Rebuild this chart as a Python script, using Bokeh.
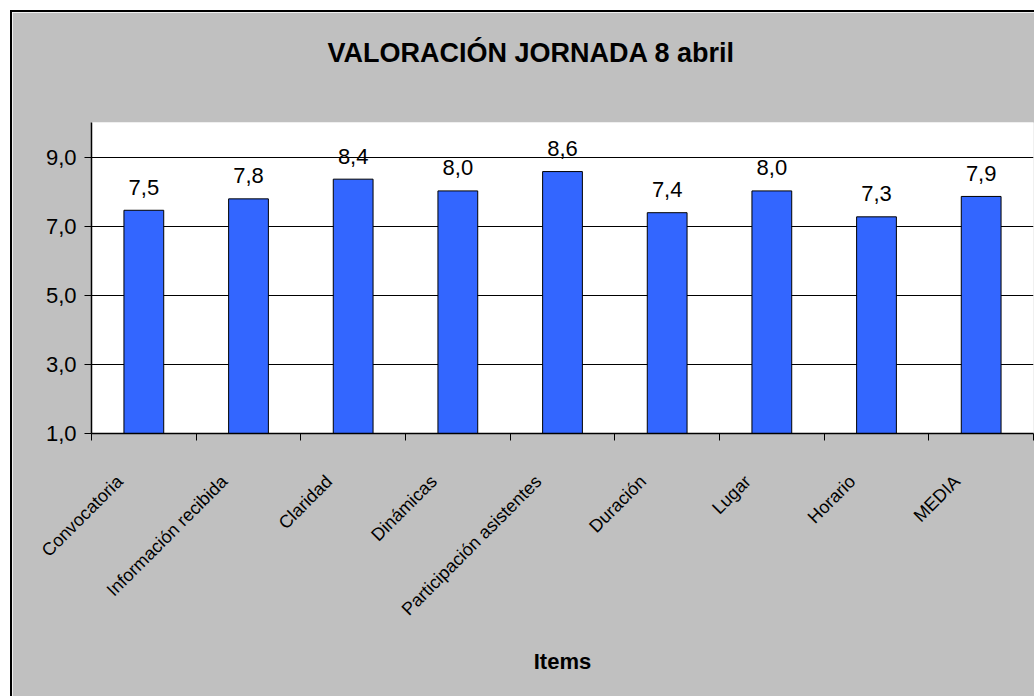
import math
from bokeh.plotting import figure
from bokeh.models import ColumnDataSource, FixedTicker, Range1d, CustomJSTickFormatter, Title
from bokeh.core.properties import value
from bokeh.embed import file_html
from bokeh.resources import INLINE

categories = ["Convocatoria", "Información recibida", "Claridad", "Dinámicas",
              "Participación asistentes", "Duración", "Lugar", "Horario", "MEDIA"]
values = [7.46, 7.79, 8.36, 8.02, 8.58, 7.39, 8.02, 7.27, 7.86]
y_ticks = [1, 3, 5, 7, 9]
title_text = "VALORACIÓN JORNADA 8 abril"
x_title = "Items"

FONT = "Liberation Sans"
n = len(categories)
xs = [i + 0.5 for i in range(n)]
label_pos = [i + 0.27 for i in range(n)]
labels = [f"{v:.1f}".replace(".", ",") for v in values]
src = ColumnDataSource(dict(x=xs, top=values, label=labels))

p = figure(width=1024, height=686, output_backend="svg", toolbar_location=None,
           x_range=Range1d(0, n), y_range=Range1d(1, 10),
           min_border_left=79, min_border_right=3, min_border_top=110, min_border_bottom=265)
p.styles = {"margin-left": "10px", "margin-top": "10px",
            "border-left": "2px solid black", "border-top": "2px solid black"}
p.border_fill_color = "#c0c0c0"
p.background_fill_color = "white"
p.outline_line_color = None

# spacer between title and plot area
p.add_layout(Title(text=" ", text_font_size="10px", standoff=20), "above")

p.title.text = title_text
p.title.align = "left"
p.title.offset = 236
p.title.standoff = 44
p.title.text_font = FONT
p.title.text_font_style = "bold"
p.title.text_font_size = "27px"
p.title.text_color = "black"

p.vbar(x="x", top="top", bottom=1, width=0.38, fill_color="#3366ff",
       line_color="black", line_width=1, source=src)
p.text(x="x", y="top", text="label", text_align="center", text_baseline="alphabetic",
       y_offset=-23, text_font=value(FONT), text_font_size="22px", text_color="black",
       source=src)

# grid
p.xgrid.visible = False
p.ygrid.ticker = FixedTicker(ticks=y_ticks)
p.ygrid.grid_line_color = "black"
p.ygrid.grid_line_width = 1

# y axis
ya = p.yaxis[0]
ya.ticker = FixedTicker(ticks=y_ticks)
ya.formatter = CustomJSTickFormatter(code="return tick.toFixed(1).replace('.', ',');")
ya.major_tick_out = 7
ya.major_tick_in = 0
ya.minor_tick_line_color = None
ya.axis_line_width = 1.5
ya.major_label_text_font = FONT
ya.major_label_text_font_size = "22px"
ya.major_label_text_color = "black"
ya.major_label_standoff = 8

# x axis
xa = p.xaxis[0]
xa.ticker = FixedTicker(ticks=label_pos, minor_ticks=list(range(n + 1)))
xa.formatter = CustomJSTickFormatter(args=dict(cats=categories),
                                     code="return cats[Math.floor(tick)];")
xa.major_tick_line_color = None
xa.major_tick_out = 0
xa.major_tick_in = 0
xa.minor_tick_out = 7
xa.minor_tick_in = 0
xa.minor_tick_line_color = "black"
xa.axis_line_width = 1.5
xa.major_label_orientation = math.pi / 4
xa.major_label_text_font = FONT
xa.major_label_text_font_size = "18px"
xa.major_label_text_color = "black"
xa.major_label_standoff = 38
xa.axis_label = x_title
xa.axis_label_text_font = FONT
xa.axis_label_text_font_style = "bold"
xa.axis_label_text_font_size = "22px"
xa.axis_label_text_color = "black"
xa.axis_label_standoff = 20

open("out.html", "w").write(file_html(p, INLINE))
